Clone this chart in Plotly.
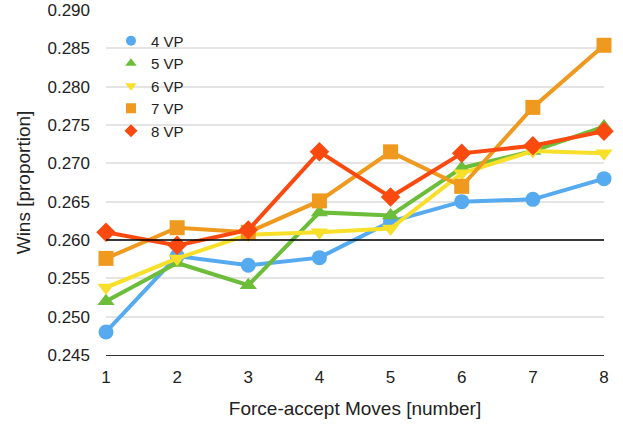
import plotly.graph_objects as go

moves = [1, 2, 3, 4, 5, 6, 7, 8]

vp4 = [0.2480, 0.2579, 0.2567, 0.2577, 0.2624, 0.2650, 0.2653, 0.2680]
vp5 = [0.2520, 0.2570, 0.2541, 0.2636, 0.2632, 0.2694, 0.2716, 0.2748]
vp6 = [0.2538, 0.2576, 0.2607, 0.2610, 0.2615, 0.2687, 0.2716, 0.2713]
vp7 = [0.2576, 0.2616, 0.2610, 0.2651, 0.2715, 0.2670, 0.2773, 0.2854]
vp8 = [0.2610, 0.2593, 0.2613, 0.2715, 0.2656, 0.2713, 0.2723, 0.2742]

y_ticks = [0.245, 0.250, 0.255, 0.260, 0.265, 0.270, 0.275, 0.280, 0.285, 0.290]
baseline = 0.260

series = [
    ("4 VP", vp4, "#55aaf0", "circle"),
    ("5 VP", vp5, "#6cbd3a", "triangle-up"),
    ("6 VP", vp6, "#f7df2a", "triangle-down"),
    ("7 VP", vp7, "#ef9a1f", "square"),
    ("8 VP", vp8, "#fb4a10", "diamond"),
]

fig = go.Figure()
for name, vals, color, sym in series:
    fig.add_trace(go.Scatter(x=moves, y=vals, mode="lines+markers", name=name,
                             showlegend=False, line=dict(color=color, width=4),
                             marker=dict(color=color, symbol=sym, size=15),
                             cliponaxis=False))
    # legend-only entry: small marker, no line
    fig.add_trace(go.Scatter(x=[None], y=[None], mode="markers", name=name,
                             marker=dict(color=color, symbol=sym, size=10)))

fig.add_shape(type="line", xref="paper", x0=0, x1=1, yref="y", y0=baseline, y1=baseline,
              line=dict(color="black", width=1.3))

fig.update_layout(
    width=623, height=424,
    margin=dict(l=106, r=19, t=10, b=69),
    paper_bgcolor="white", plot_bgcolor="white",
    font=dict(family="Liberation Sans, Arial, sans-serif", size=17, color="#222"),
    legend=dict(x=0.01, y=0.958, xanchor="left", yanchor="top",
                bgcolor="rgba(0,0,0,0)", font=dict(size=15), itemwidth=30,
                tracegroupgap=0),
)
fig.update_xaxes(range=[1, 8], tickvals=moves, showgrid=False, zeroline=False,
                 showline=True, linecolor="#333", linewidth=1.3, ticks="",
                 automargin=False, ticklabelstandoff=6, ticklabeloverflow="allow",
                 title=dict(text="Force-accept Moves [number]", standoff=16,
                            font=dict(size=19)))
fig.update_yaxes(range=[0.245, 0.290], tickvals=y_ticks, tickformat=".3f",
                 showgrid=True, gridcolor="#e4e4e4", gridwidth=1.5, zeroline=False,
                 showline=False, ticks="", automargin=False, ticklabelstandoff=15,
                 ticklabeloverflow="allow",
                 title=dict(text="Wins [proportion]", standoff=11, font=dict(size=19)))

# drop the default 8px body margin so the figure sits at the page origin
fig.write_html("out.html", config={"displayModeBar": False},
               post_script="document.body.style.margin='0px';")
